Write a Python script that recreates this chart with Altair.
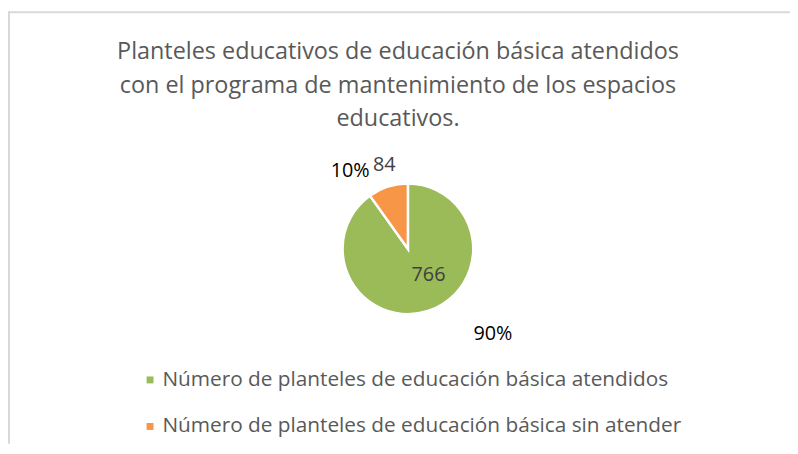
import altair as alt
import pandas as pd

categories = [
    "Número de planteles de educación básica atendidos",
    "Número de planteles de educación básica sin atender",
]
values = [766, 84]
colors = ["#9BBB59", "#F79646"]
title_lines = [
    "Planteles educativos de educación básica atendidos",
    "con el programa de mantenimiento de los espacios",
    "educativos.",
]

df = pd.DataFrame({"cat": categories, "value": values, "order": [0, 1]})
tdf = pd.DataFrame({"line": title_lines, "i": list(range(len(title_lines)))})

FONT = "Open Sans"
# view origin is page (8, 8)
CX, CY, R = 404, 241, 66

base = alt.Chart(df)

pie = base.mark_arc(outerRadius=R, stroke="white", strokeWidth=2.5, x=CX, y=CY).encode(
    theta=alt.Theta("value:Q", stack=True),
    order=alt.Order("order:Q"),
    color=alt.Color(
        "cat:N",
        scale=alt.Scale(domain=categories, range=colors),
        legend=alt.Legend(
            title=None,
            orient="none",
            legendX=133,
            legendY=363,
            direction="vertical",
            symbolType="square",
            symbolSize=49,
            symbolStrokeWidth=0,
            labelFont=FONT,
            labelFontSize=21,
            labelColor="#595959",
            labelOffset=2,
            labelLimit=700,
            rowPadding=25,
            padding=0,
        ),
    ),
)


def label_layer(off_g, r_g, off_o, r_o, text_expr, color):
    return (
        base.transform_joinaggregate(total="sum(value)")
        .transform_window(cum="sum(value)", sort=[alt.SortField("order")], frame=[None, 0])
        .transform_calculate(
            mid="2*PI*(datum.cum - datum.value/2)/datum.total",
            ang=f"datum.mid + (datum.order == 0 ? {off_g} : {off_o})*PI/180",
            rr=f"datum.order == 0 ? {r_g} : {r_o}",
            lx=f"{CX} + datum.rr*sin(datum.ang)",
            ly=f"{CY} - datum.rr*cos(datum.ang)",
            lab=text_expr,
        )
        .mark_text(font=FONT, fontSize=20, color=color, align="center", baseline="middle")
        .encode(
            x=alt.X("lx:Q", scale=None, axis=None),
            y=alt.Y("ly:Q", scale=None, axis=None),
            text="lab:N",
        )
    )


value_labels = label_layer(-20, 34, 2, 88, "format(datum.value, 'd')", "#404040")
pct_labels = label_layer(-27, 122, -19, 97.5, "format(datum.value/datum.total*100, '.0f') + '%'", "#000000")

title = (
    alt.Chart(tdf)
    .transform_calculate(ty="42.5 + datum.i*33.8")
    .mark_text(font=FONT, fontSize=23.6, color="#595959", align="center", baseline="middle", x=394)
    .encode(y=alt.Y("ty:Q", scale=None, axis=None), text="line:N")
)

border = alt.Chart(alt.Data(values=[{}]))
top_border = border.mark_rule(color="#d9d9d9", strokeWidth=2).encode(
    x=alt.value(0), x2=alt.value(790), y=alt.value(2)
)
left_border = border.mark_rule(color="#d9d9d9", strokeWidth=2).encode(
    x=alt.value(1), y=alt.value(1), y2=alt.value(438)
)

chart = (
    alt.layer(top_border, left_border, title, pie, value_labels, pct_labels)
    .properties(
        width=790,
        height=438,
        padding=0,
        autosize=alt.AutoSizeParams(type="none"),
    )
    .configure_view(stroke=None)
)

chart.save("out.html", embed_options={"renderer": "svg", "actions": False})
